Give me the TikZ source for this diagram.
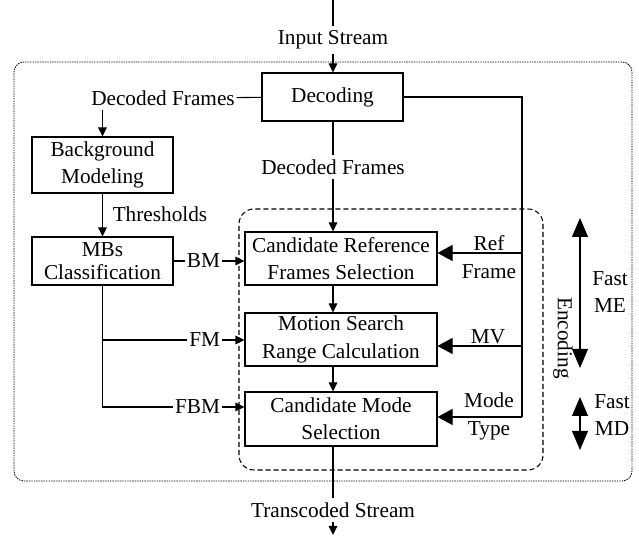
\documentclass[tikz,border=0pt]{standalone}
\usepackage{fontspec}
\setmainfont{Liberation Serif}
\usetikzlibrary{arrows.meta}

\begin{document}
\begin{tikzpicture}[font=\fontsize{12.1}{15.6}\selectfont, line width=0.6pt,
 blk/.style={draw, align=center, inner sep=0pt},
 lbl/.style={inner sep=2.5pt, align=center},
 hlbl/.style={inner xsep=0.8pt, inner ysep=2pt},
 sm/.style={-{Triangle[width=0.17cm,length=0.18cm]}},
 big/.style={-{Triangle[width=0.32cm,length=0.3cm]}},
 bigboth/.style={{Triangle[width=0.32cm,length=0.38cm]}-{Triangle[width=0.32cm,length=0.38cm]}}]
\useasboundingbox (0,0) rectangle (12.78,10.92);
% Rahmen: Transcoder (gepunktet) und Encoding (gestrichelt)
\draw[line width=0.5pt, dash pattern=on 0.8pt off 0.6pt, rounded corners=0.2cm] (0.28,1.30) rectangle (12.64,9.68);
\draw[dash pattern=on 0.1cm off 0.06cm, rounded corners=0.3cm] (4.78,1.52) rectangle (10.86,6.74);
% Bloecke
\node[blk, minimum width=2.82cm, minimum height=0.96cm] (dec) at (6.65,8.98) {Decoding};
\node[blk, minimum width=2.82cm, minimum height=1.12cm] (bgm) at (2.05,7.62) {Background\\Modeling};
\node[blk, minimum width=2.82cm, minimum height=0.96cm] (mbs) at (2.05,5.70) {MBs\\[-0.08cm]Classification};
\node[blk, minimum width=3.84cm, minimum height=1.06cm] (crf) at (6.82,5.75) {Candidate Reference\\Frames Selection};
\node[blk, minimum width=3.84cm, minimum height=1.06cm] (msr) at (6.82,4.13) {Motion Search\\Range Calculation};
\node[blk, minimum width=3.84cm, minimum height=1.08cm] (cms) at (6.82,2.54) {Candidate Mode\\Selection};
% Beschriftungen
\node[lbl] (inp) at (6.66,10.12) {Input Stream};
\node[hlbl] (df1) at (3.26,8.96) {Decoded Frames};
\node[lbl] (df2) at (6.66,7.58) {Decoded Frames};
\node[lbl] (thr) at (3.20,6.64) {Thresholds};
\node[hlbl, anchor=east] (bm) at (4.44,5.70) {BM};
\node[hlbl, anchor=east] (fm) at (4.44,4.12) {FM};
\node[hlbl, anchor=east] (fbm) at (4.44,2.78) {FBM};
\node[lbl] (rf) at (9.78,5.78) {Ref\\Frame};
\node[lbl] (mv) at (9.76,4.18) {MV};
\node[lbl] (mt) at (9.78,2.59) {Mode\\Type};
\node[lbl, rotate=-90] (enc) at (11.26,4.16) {Encoding};
\node[lbl] (fme) at (12.20,5.08) {Fast\\ME};
\node[lbl] (fmd) at (12.24,2.62) {Fast\\MD};
\node[lbl] (out) at (6.66,0.72) {Transcoded Stream};
% Ein- und Ausgang
\coordinate (top) at (6.66,10.92); \coordinate (bot) at (6.66,0.22);
\draw (top) -- (inp); \draw[sm] (inp) -- (inp |- dec.north);
\draw (cms.south -| out) -- (out); \draw[sm] (out) -- (bot);
% linker Zweig
\draw (df1) -- (dec);
\draw[sm] (df1.south -| bgm.north) -- (bgm.north);
\draw[sm] (bgm) -- (mbs);
\draw (mbs) -- (bm); \draw[sm] (bm) -- (bm -| crf.west);
\draw (mbs.south) |- (fm); \draw[sm] (fm) -- (fm -| msr.west);
\draw (mbs.south) |- (fbm); \draw[sm] (fbm) -- (fbm -| cms.west);
% mittlerer Zweig
\draw (dec.south -| df2) -- (df2); \draw[sm] (df2) -- (df2 |- crf.north);
\draw[sm] (crf.south -| df2) -- (msr.north -| df2);
\draw[sm] (msr.south -| df2) -- (cms.north -| df2);
% rechter Zweig: Ref Frame, MV, Mode Type
\coordinate (r1) at (10.44,5.86); \coordinate (r2) at (10.44,4.00); \coordinate (r3) at (10.44,2.58);
\draw (dec.east) -| (r3);
\draw[big] (r1) -- (r1 -| crf.east);
\draw[big] (r2) -- (r2 -| msr.east);
\draw[big] (r3) -- (r3 -| cms.east);
% Fast ME / Fast MD
\coordinate (me1) at (11.60,6.56); \coordinate (me2) at (11.60,3.56);
\coordinate (md1) at (11.60,2.98); \coordinate (md2) at (11.60,1.92);
\draw[bigboth] (me1) -- (me2);
\draw[bigboth] (md1) -- (md2);
\end{tikzpicture}
\end{document}
